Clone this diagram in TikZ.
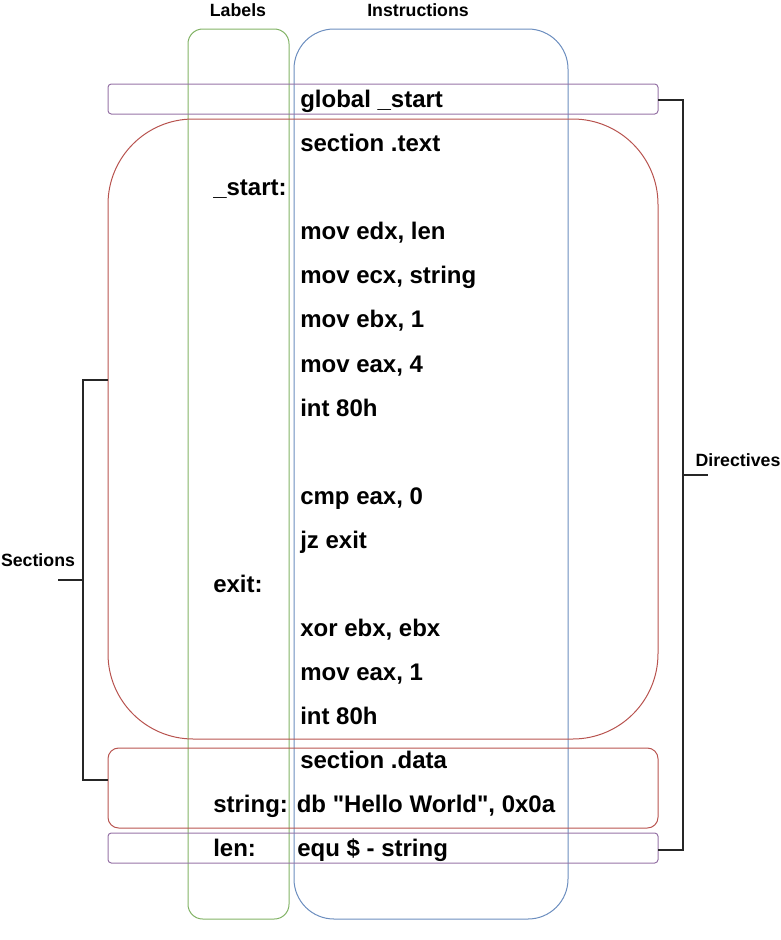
\documentclass[tikz,border=0pt]{standalone}
\usepackage{fontspec}
\setmainfont{Liberation Sans}
\newfontfamily\rawfont{Liberation Sans}
\definecolor{gr}{HTML}{82B366}
\definecolor{bl}{HTML}{6C8EBF}
\definecolor{pu}{HTML}{9673A6}
\definecolor{rd}{HTML}{B85450}
\begin{document}
\begin{tikzpicture}[x=0.75pt,y=-0.75pt,
  box/.style={draw, line width=0.75pt, inner sep=0pt, outer sep=0pt},
  code/.style={font=\bfseries\fontsize{18}{20}\selectfont, inner sep=0pt, anchor=base west},
  head/.style={font=\bfseries\fontsize{13.3}{15}\selectfont, inner sep=0pt},
  brk/.style={line width=1.5pt, black!85}]
\useasboundingbox (0,0) rectangle (781,940);
% columns
\node[box, draw=gr, rounded corners=11pt, minimum width=75.75pt, minimum height=667.5pt] (labcol) at (238.5,474) {};
\node[box, draw=bl, rounded corners=30pt, minimum width=205.5pt, minimum height=667.5pt] (inscol) at (431,474) {};
% sections / directives
\node[box, draw=pu, rounded corners=2.5pt, minimum width=412.5pt, minimum height=22.5pt] (gs) at (383,99) {};
\node[box, draw=rd, rounded corners=64pt, minimum width=412.5pt, minimum height=465pt] (sectext) at (383,429) {};
\node[box, draw=rd, rounded corners=8pt, minimum width=412.5pt, minimum height=60pt] (secdata) at (383,788) {};
\node[box, draw=pu, rounded corners=2.5pt, minimum width=412.5pt, minimum height=22.5pt] (lenbox) at (383,848) {};
% headings
\node[head] (hlab) at (238,10) {Labels};
\node[head] (hins) at (418,10) {Instructions};
\node[head] (hsec) at (38,560) {Sections};
\node[head] (hdir) at (738,460) {Directives};
% code lines
\node[code] (l1) at (300,107.5) {global \_start};
\node[code] (l2) at (300,151.5) {section .text};
\node[code] (l3) at (213,195.5) {\_start:};
\node[code] (l4) at (300,239.5) {mov edx, len};
\node[code] (l5) at (300,283.5) {mov ecx, string};
\node[code] (l6) at (300,327.5) {mov ebx, 1};
\node[code] (l7) at (300,372.5) {mov eax, 4};
\node[code] (l8) at (300,416.5) {int 80h};
\node[code] (l9) at (300,504.5) {cmp eax, 0};
\node[code] (l10) at (300,548.5) {jz exit};
\node[code] (l11) at (213,592.5) {exit:};
\node[code] (l12) at (300,636.5) {xor ebx, ebx};
\node[code] (l13) at (300,680.5) {mov eax, 1};
\node[code] (l14) at (300,724.5) {int 80h};
\node[code] (l15) at (300,768.5) {section .data};
\node[code] (l16) at (213,812.5) {{\rawfont string: db "Hello World", 0x0a}};
\node[code] (l17) at (213,856.5) {len:};
\node[code] (l18) at (297,856.5) {equ \$ - string};
% brackets
\coordinate (sa) at (108,380);
\coordinate (sb) at (108,780);
\coordinate (sm) at (83,580);
\coordinate (st) at (58,580);
\draw[brk] (sa) -- (83,380) -- (83,780) -- (sb);
\draw[brk] (sm) -- (st);
\coordinate (da) at (658,100);
\coordinate (db) at (658,850);
\coordinate (dm) at (683,475);
\coordinate (dt) at (708,475);
\draw[brk] (da) -- (683,100) -- (683,850) -- (db);
\draw[brk] (dm) -- (dt);
\end{tikzpicture}
\end{document}
